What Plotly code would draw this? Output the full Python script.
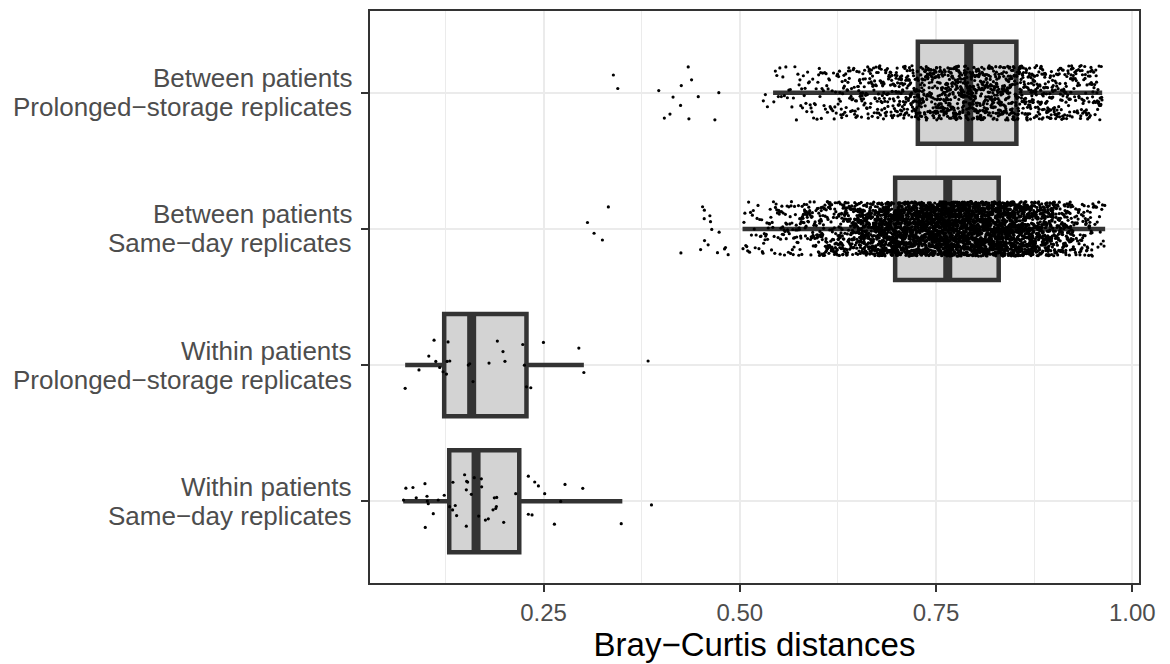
import math
import plotly.graph_objects as go

# Group labels, bottom to top (two lines each)
label_top = ["Within patients", "Within patients", "Between patients", "Between patients"]
label_bottom = [
    "Same−day replicates",
    "Prolonged−storage replicates",
    "Same−day replicates",
    "Prolonged−storage replicates",
]

# Box summaries (Bray–Curtis distance) per group
q1 = [0.1299, 0.1235, 0.6979, 0.7268]
median = [0.1641, 0.1585, 0.7649, 0.7916]
q3 = [0.2191, 0.2283, 0.8298, 0.8523]
lower_whisker = [0.0713, 0.0738, 0.5035, 0.5424]
upper_whisker = [0.3504, 0.3014, 0.9654, 0.9616]

# Within-patient distances
within_same_day = [
    0.0747, 0.0879, 0.1032, 0.1096, 0.0990, 0.0837, 0.1020, 0.1159, 0.0717,
    0.0994, 0.1016, 0.1236, 0.1304, 0.1346, 0.1342, 0.1376, 0.1393, 0.1495,
    0.1517, 0.1521, 0.1534, 0.1517, 0.1581, 0.1618, 0.1674, 0.1712, 0.1760,
    0.1708, 0.1797, 0.1857, 0.1874, 0.1891, 0.1900, 0.1904, 0.1993, 0.2146,
    0.2307, 0.2354, 0.2307, 0.2435, 0.2388, 0.2515, 0.2639, 0.2719, 0.2774,
    0.3000, 0.3490, 0.3875,
]
within_prolonged = [
    0.0738, 0.3014, 0.1264, 0.1912, 0.1806, 0.2009, 0.1272, 0.1306, 0.1128,
    0.1221, 0.2499, 0.2950, 0.1602, 0.1984, 0.1039, 0.1106, 0.1178, 0.1284,
    0.1542, 0.1560, 0.2257, 0.2283, 0.2338, 0.0914, 0.2236, 0.3832,
]

# Between-patient distances: low values listed individually,
# the bulk given as counts per distance interval
between_same_day_low = [
    0.3144, 0.3250, 0.3326, 0.3060, 0.4526, 0.4547, 0.4501, 0.4549, 0.4250,
    0.4551, 0.4619, 0.4627, 0.4806, 0.4716, 0.4597, 0.4643, 0.4737, 0.4818,
    0.4852,
]
between_same_day_edges = [
    0.5035, 0.525, 0.55, 0.575, 0.60, 0.625, 0.65, 0.675, 0.70, 0.725, 0.75,
    0.775, 0.80, 0.825, 0.85, 0.875, 0.90, 0.925, 0.95, 0.9654,
]
between_same_day_counts = [
    18, 30, 45, 65, 90, 130, 230, 320, 350, 400, 420, 420, 410, 380, 320,
    220, 130, 65, 16,
]

between_prolonged_low = [
    0.3390, 0.3968, 0.4039, 0.4111, 0.4246, 0.4343, 0.4471, 0.4683, 0.4733,
    0.3446, 0.4386, 0.4255, 0.4352, 0.4150, 0.5300, 0.5352, 0.5326,
]
between_prolonged_edges = [
    0.5424, 0.575, 0.60, 0.625, 0.65, 0.675, 0.70, 0.725, 0.75, 0.775, 0.80,
    0.825, 0.85, 0.875, 0.90, 0.925, 0.95, 0.9616,
]
between_prolonged_counts = [
    17, 23, 29, 44, 57, 70, 86, 109, 125, 135, 135, 127, 104, 86, 70, 60, 25,
]


def spread_counts(edges, counts):
    """Place each interval's observations evenly across that interval."""
    vals = []
    for a, b, n in zip(edges[:-1], edges[1:], counts):
        for j in range(n):
            vals.append(a + (j + 0.5) * (b - a) / n)
    return vals


def jitter(n, seed, height=0.2):
    """Deterministic vertical jitter in [-height, height]."""
    out = []
    for k in range(n):
        s = math.sin((k + 1) * 12.9898 + seed * 78.233) * 43758.5453
        out.append((2 * (s - math.floor(s)) - 1) * height)
    return out


group_values = [
    within_same_day,
    within_prolonged,
    between_same_day_low + spread_counts(between_same_day_edges, between_same_day_counts),
    between_prolonged_low + spread_counts(between_prolonged_edges, between_prolonged_counts),
]

positions = list(range(len(label_top)))
DARK = "#333333"
BOX_WIDTH = 0.75

fig = go.Figure()

# Boxes from the summary statistics
fig.add_trace(go.Box(
    y=positions,
    q1=q1, median=median, q3=q3,
    lowerfence=lower_whisker, upperfence=upper_whisker,
    orientation="h",
    width=BOX_WIDTH,
    whiskerwidth=0,
    boxpoints=False,
    fillcolor="#D3D3D3",
    line=dict(color=DARK, width=4.5),
    hoverinfo="skip",
    showlegend=False,
))

# Heavier median bars
mx, my = [], []
for p, m in zip(positions, median):
    mx += [m, m, None]
    my += [p - BOX_WIDTH / 2, p + BOX_WIDTH / 2, None]
fig.add_trace(go.Scatter(
    x=mx, y=my, mode="lines",
    line=dict(color=DARK, width=9),
    hoverinfo="skip", showlegend=False,
))

# Jittered observations
px, py = [], []
for p, vals in zip(positions, group_values):
    offs = jitter(len(vals), seed=p + 1)
    px += vals
    py += [p + o for o in offs]
fig.add_trace(go.Scatter(
    x=px, y=py, mode="markers",
    marker=dict(color="black", size=3.2, line=dict(width=0)),
    hoverinfo="skip", showlegend=False,
))

FONT = "Liberation Sans, Arial, Helvetica, sans-serif"
GRID = "#EBEBEB"
LABEL_FONT = dict(size=26, color="#4D4D4D", family=FONT)

# Two-line group labels beside the y ticks
annotations = []
for p, top, bottom in zip(positions, label_top, label_bottom):
    for text, shift in ((top, 14.5), (bottom, -14.5)):
        annotations.append(dict(
            x=0, xref="paper", y=p, yref="y",
            xanchor="right", yanchor="middle",
            xshift=-16, yshift=shift,
            text=text, showarrow=False, font=LABEL_FONT,
        ))

fig.update_layout(
    width=1170, height=664,
    margin=dict(l=370, r=31, t=9, b=81),
    paper_bgcolor="white", plot_bgcolor="white",
    font=dict(family=FONT),
    showlegend=False,
    annotations=annotations,
)
fig.update_xaxes(
    range=[0.0290, 1.0085],
    tickvals=[0.25, 0.50, 0.75, 1.00],
    ticktext=["0.25", "0.50", "0.75", "1.00"],
    tickfont=dict(size=24, color="#4D4D4D", family=FONT),
    ticks="outside", ticklen=7, tickwidth=2, tickcolor=DARK,
    showgrid=True, gridcolor=GRID, gridwidth=2,
    minor=dict(tickvals=[0.125, 0.375, 0.625, 0.875], showgrid=True,
               gridcolor=GRID, gridwidth=1.2, ticks=""),
    showline=True, mirror=True, linecolor=DARK, linewidth=2,
    zeroline=False,
    title=dict(text="Bray−Curtis distances", font=dict(size=33, color="black", family=FONT),
               standoff=4),
)
fig.update_yaxes(
    range=[-0.6, 3.6],
    tickvals=positions, showticklabels=False,
    ticks="outside", ticklen=7, tickwidth=2, tickcolor=DARK,
    showgrid=True, gridcolor=GRID, gridwidth=2,
    showline=True, mirror=True, linecolor=DARK, linewidth=2,
    zeroline=False,
)

fig.write_html("out.html")
